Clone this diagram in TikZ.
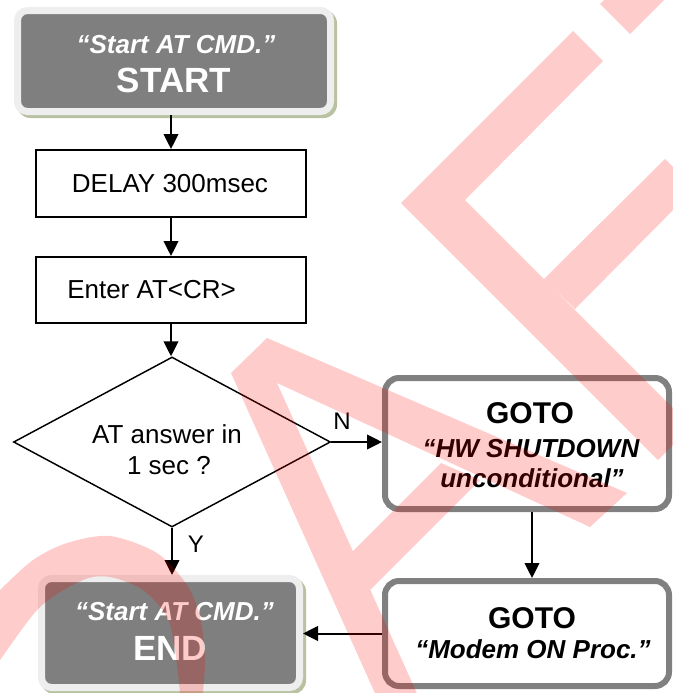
\documentclass[tikz,border=0pt]{standalone}
\usepackage{fontspec}
\setmainfont{Liberation Sans}
\usetikzlibrary{arrows.meta,shapes.geometric}
\definecolor{boxgray}{RGB}{127,127,127}
\definecolor{lightrim}{RGB}{238,238,238}
\definecolor{shadowgreen}{RGB}{184,194,160}
\definecolor{gotogray}{RGB}{128,128,128}
\newcommand{\myfs}[1]{\fontsize{#1}{#1}\selectfont}
\begin{document}
\begin{tikzpicture}[x=0.75pt,y=-0.75pt,
  termbox/.style={rectangle, rounded corners=7.5pt, fill=boxgray, draw=lightrim, line width=5.25pt, inner sep=0pt},
  procbox/.style={rectangle, draw=black, line width=1.5pt, fill=white, inner sep=0pt},
  gotobox/.style={rectangle, rounded corners=10.5pt, draw=gotogray, line width=4.5pt, fill=white, inner sep=0pt},
  decbox/.style={diamond, draw=black, line width=1.1pt, inner sep=0pt},
  flow/.style={line width=1.5pt, -{Triangle[length=11.25pt,width=11pt]}},
  txt/.style={anchor=base, inner sep=0pt},
  plain/.style={font=\myfs{19.5pt}},
  lab/.style={font=\myfs{18pt}},
  bi/.style={font=\bfseries\itshape\myfs{19.5pt}},
  big/.style={font=\bfseries\myfs{26.25pt}},
  gototxt/.style={font=\bfseries\myfs{22.5pt}},
  wmark/.style={fill=red, fill opacity=0.2}
]
\useasboundingbox (0,0) rectangle (673,693);

% shadows of terminal boxes
\fill[shadowgreen, rounded corners=10pt] (17,10) rectangle (337,118);
\fill[shadowgreen, rounded corners=10pt] (41,578) rectangle (306,694);

% shapes
\node[termbox, minimum width=234.75pt, minimum height=75.75pt] (start) at (174,61) {};
\node[procbox, minimum width=202.5pt, minimum height=50.25pt] (delay) at (171,183.5) {};
\node[procbox, minimum width=202.5pt, minimum height=49.5pt] (enter) at (171,290) {};
\node[decbox, minimum width=237.75pt, minimum height=127.5pt] (dec) at (172,442) {};
\node[gotobox, minimum width=213pt, minimum height=98.25pt] (box1) at (527,443.5) {};
\node[gotobox, minimum width=213pt, minimum height=78.75pt] (box2) at (527,633.5) {};
\node[termbox, minimum width=193.5pt, minimum height=81.75pt] (end) at (170.5,633) {};

% connectors
\draw[flow] (delay.north |- start.south) -- (delay.north);
\draw[flow] (delay.south) -- (enter.north);
\draw[flow] (enter.south) -- (enter.south |- dec.north);
\draw[flow] (dec.east) -- (dec.east -| box1.west);
\draw[flow] (dec.south) -- (dec.south |- end.north);
\draw[flow] ([xshift=3.75pt]box1.south) -- ([xshift=3.75pt]box2.north);
\draw[flow] (box2.west) -- (box2.west -| end.east);

% texts
\node[txt, bi, white] (t1) at (176,53) {“Start AT CMD.”};
\node[txt, big, white] (t2) at (174,92) {START};
\node[txt, plain] (t3) at (170,192) {DELAY 300msec};
\node[txt, plain, anchor=base west] (t4) at (67,298) {Enter AT<CR>};
\node[txt, plain] (t5) at (167,443) {AT answer in};
\node[txt, plain] (t6) at (169,474) {1 sec ?};
\node[txt, lab] (t7) at (342,429) {N};
\node[txt, lab] (t8) at (196,552) {Y};
\node[txt, gototxt] (t9) at (530,423) {GOTO};
\node[txt, bi] (t10) at (531,457) {“HW SHUTDOWN};
\node[txt, bi] (t11) at (532,487) {unconditional”};
\node[txt, gototxt] (t12) at (532,628) {GOTO};
\node[txt, bi] (t13) at (533,658) {“Modem ON Proc.”};
\node[txt, bi, white] (t14) at (174.5,620) {“Start AT CMD.”};
\node[txt, big, white] (t15) at (170,660) {END};

% watermark
\begin{scope}
\clip (0,0) rectangle (673,693);
\fill[wmark]
  (600,4) -- (700,-96) -- (730,-66) -- (630,34) -- cycle
  (401,203) -- (573,31) -- (603,61) -- (465,200) -- cycle
  (401,203) -- (434.5,169.5) -- (691.5,426.5) -- (658,460) -- cycle
  (544,279) -- (665,159) -- (694.5,188.5) -- (575,309) -- cycle
  (231,373) -- (267,338) -- (277,383) -- cycle
  (231,373) -- (277,383) -- (429,720) -- (387,720) -- cycle
  (267,338) -- (627,493) -- (590,527) -- (277,383) -- cycle
  (353,551) -- (441,463) -- (480,480) -- (370,590) -- cycle;
\fill[wmark] plot[smooth] coordinates {(-20,610) (0,590) (33,560) (67,543) (110,536) (157,553) (187,585) (200,617) (205,657) (203,693) (201,720)}
  -- plot[smooth] coordinates {(182,720) (180,693) (175,650) (167,617) (143,590) (110,577) (83,580) (40,607) (0,660) (-15,680)} -- cycle;
\end{scope}
\end{tikzpicture}
\end{document}
